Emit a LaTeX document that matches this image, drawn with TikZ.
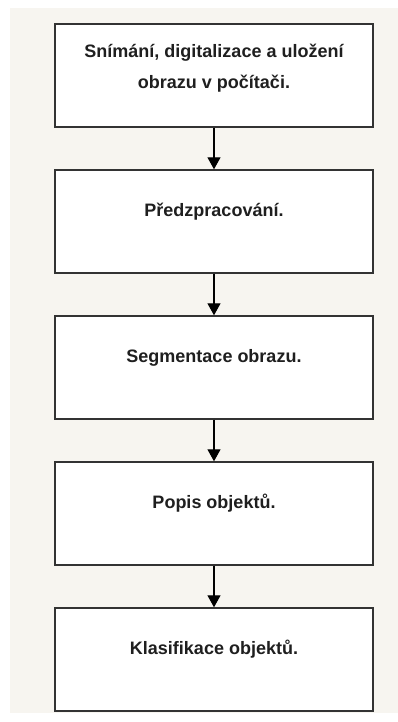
\documentclass[tikz,border=0pt]{standalone}
\usepackage{fontspec}
\setmainfont{Liberation Sans}
\usetikzlibrary{arrows.meta,positioning}
\definecolor{panelbg}{HTML}{F7F5F0}
\definecolor{boxline}{HTML}{333333}

\begin{document}
\begin{tikzpicture}[
  x=1pt, y=1pt,
  every node/.style={font=\bfseries\fontsize{18}{31}\selectfont, text=black!88},
  stepbox/.style={draw=boxline, line width=1.4pt, fill=white, rectangle,
    minimum width=318pt, inner xsep=0pt, inner ysep=0pt, align=center,
    text height=46.5pt, text depth=56.5pt},
  node distance=41.6pt,
  >={Triangle[width=13pt,length=12pt]}
]

% --- Background panel ---
\useasboundingbox (0,0) rectangle (398,-722);
\fill[panelbg] (10,-8) rectangle (398,-713);

% --- Steps ---
\node[stepbox, text height=64.5pt, text depth=38.5pt] (scan) at (214,-75.5)
  {Snímání, digitalizace a uložení\\obrazu v počítači.};
\node[stepbox] (pre)   [below=of scan] {Předzpracování.};
\node[stepbox] (seg)   [below=of pre]  {Segmentace obrazu.};
\node[stepbox] (desc)  [below=of seg]  {Popis objektů.};
\node[stepbox] (class) [below=of desc] {Klasifikace objektů.};

% --- Arrows ---
\foreach \a/\b in {scan/pre,pre/seg,seg/desc,desc/class}
  \draw[->, line width=1.2pt] (\a) -- (\b);

\end{tikzpicture}
\end{document}
